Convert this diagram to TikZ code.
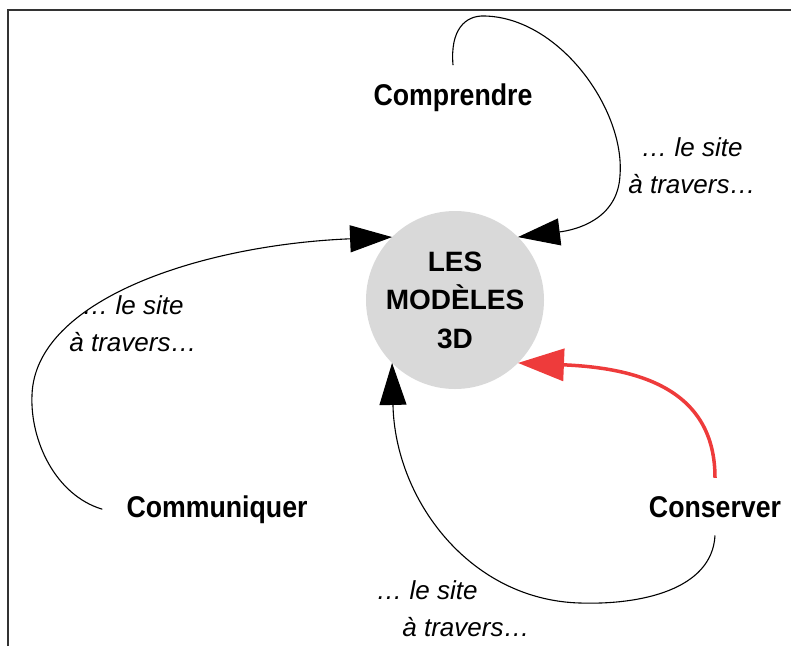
\documentclass[tikz,border=0pt]{standalone}
\usepackage{fontspec}
\setmainfont{Liberation Sans}
\newfontfamily\narrowfont{Liberation Sans}[FakeStretch=0.89]
\usetikzlibrary{arrows.meta}
\definecolor{disc}{HTML}{D9D9D9}
\definecolor{redline}{HTML}{EE3B3B}
\definecolor{framegray}{HTML}{333333}

\begin{document}
\begin{tikzpicture}[x=1pt,y=-1pt,
	lbl/.style={font=\narrowfont\bfseries\fontsize{30}{34}\selectfont, inner xsep=24pt, inner ysep=18pt, anchor=base},
	via/.style={font=\itshape\fontsize{26}{37}\selectfont, inner sep=0pt},
	lien/.style={line width=1.1pt, -{Triangle[length=42pt,width=27pt]}},
	rouge/.style={line width=3.5pt, color=redline, -{Triangle[length=46pt,width=32pt]}}]
				\useasboundingbox (0,0) rectangle (791,646);
				\draw[line width=2pt, framegray] (8,646) -- (8,10) -- (791,10);
				
				% centre
				\node[circle, fill=disc, minimum size=178pt, inner sep=0pt, outer sep=0pt,
					align=center, font=\bfseries\fontsize{28}{38.5}\selectfont]
					(mod) at (455,300) {LES\\MODÈLES\\3D};
				
				\foreach \x/\y/\t in
				{comp/{(453,105)}/Comprendre, comm/{(217,517)}/Communiquer, cons/{(715,517)}/Conserver}{
					\node[lbl] (\x) at \y {\t};
				}
				
				% labels
				\node[via, align=center] (v1) at (692,166) {… le site\\à travers…}; % comp
				\node[via, align=center] (v2) at (133,324) {… le site\\à travers…}; % comm
				\node[via, align=left] (v3) at (453,609) {… le site\\\hspace*{26pt}à travers…}; % cons
				
				% arrows
				\draw[lien] (comp.north) .. controls (450,30) and (465,15) .. (485,16)
					.. controls (560,18) and (625,110) .. (620,175)
					.. controls (618,220) and (575,230) .. (mod.45);
				\draw[lien] (comm.west) .. controls (55,495) and (30,440) .. (32,395)
					.. controls (35,300) and (200,245) .. (mod.135);
				\draw[lien] (cons.south) .. controls (712,590) and (640,605) .. (580,603)
					.. controls (470,600) and (395,500) .. (mod.225);
				\draw[rouge] (cons.north) .. controls (715,390) and (640,368) .. (mod.-45);
			\end{tikzpicture}
\end{document}
